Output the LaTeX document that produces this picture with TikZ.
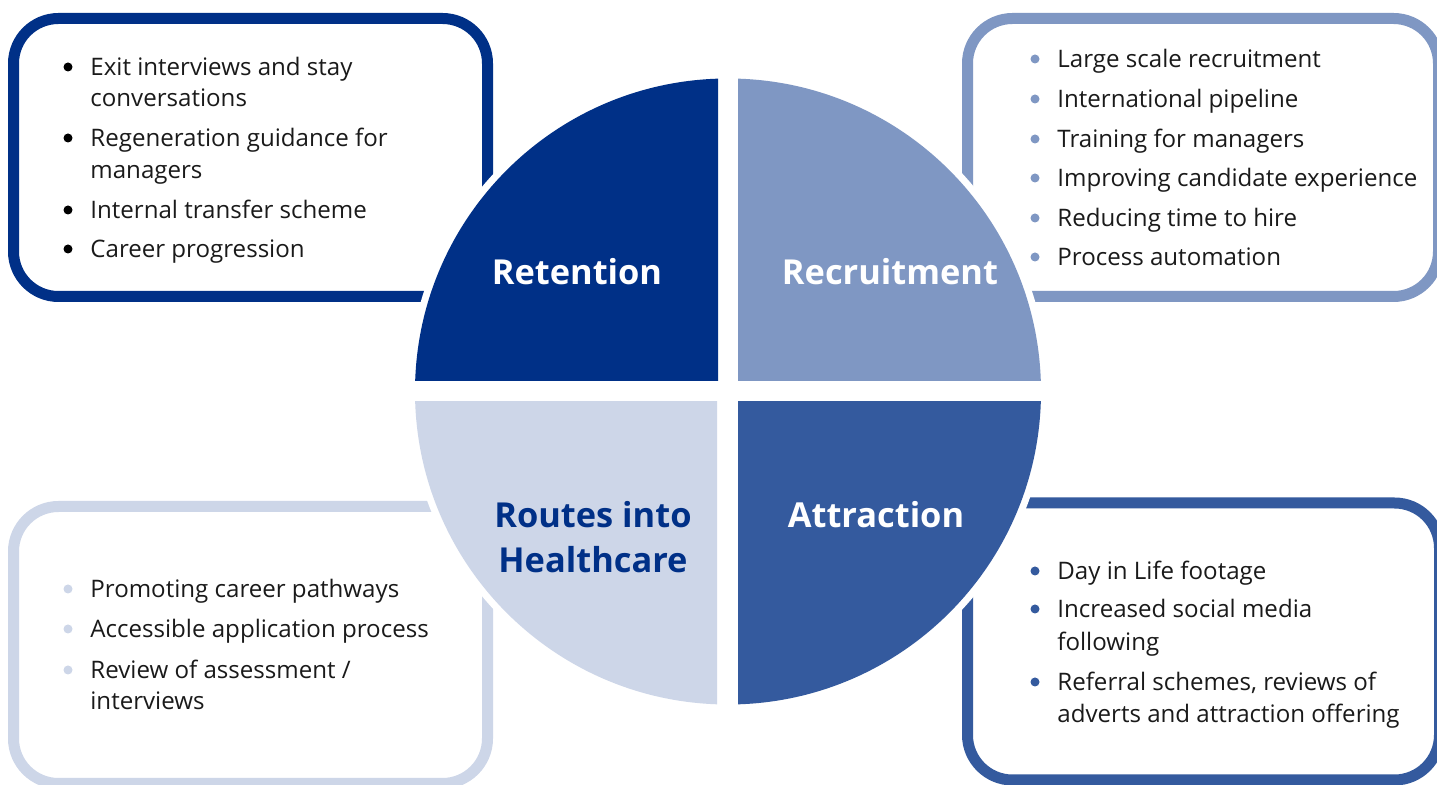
\documentclass[tikz,border=0pt]{standalone}
\usepackage{fontspec}
\setmainfont{Open Sans}
\definecolor{cRet}{HTML}{003087}
\definecolor{cRec}{HTML}{7F97C3}
\definecolor{cRou}{HTML}{CDD6E8}
\definecolor{cAtt}{HTML}{345A9E}
\definecolor{txt}{HTML}{1A1A1A}
\begin{document}
\begin{tikzpicture}[x=0.5pt,y=-0.5pt,
  item/.style={anchor=base west, inner sep=0pt, text=txt, font=\fontsize{12.05}{15}\selectfont},
  title/.style={anchor=base, inner sep=0pt, font=\fontsize{17.2}{21}\selectfont\bfseries},
  frame/.style={line width=5.5pt, rounded corners=22.5pt, fill=white},
  dot/.style={circle, inner sep=0pt, minimum size=4.5pt}]
\useasboundingbox (0,0) rectangle (1437,785);
\fill[white] (0,0) rectangle (1437,785);
% frames
\draw[frame, draw=cRet] (13.5,18.5) rectangle (487.5,296.5);
\draw[frame, draw=cRec] (967.5,18.5) rectangle (1438.5,296.5);
\draw[frame, draw=cRou] (13.5,506.5) rectangle (487.5,783.5);
\draw[frame, draw=cAtt] (967.5,503) rectangle (1439.5,780);
% white halo and quadrants
\fill[white] (728,391.5) circle [radius=320];
\begin{scope}\clip (0,0) rectangle (718,381);
  \fill[cRet] (728,391.5) circle [radius=313];\end{scope}
\begin{scope}\clip (738,0) rectangle (1437,381);
  \fill[cRec] (728,391.5) circle [radius=313];\end{scope}
\begin{scope}\clip (0,402) rectangle (717,785);
  \fill[cRou] (728,391.5) circle [radius=313];\end{scope}
\begin{scope}\clip (738,402) rectangle (1437,785);
  \fill[cAtt] (728,391.5) circle [radius=313];\end{scope}
% titles
\node[title, text=white] (tRet) at (577,285) {Retention};
\node[title, text=white] (tRec) at (890,285) {Recruitment};
\node[title, text=cRet] (tRou1) at (593,528) {Routes into};
\node[title, text=cRet] (tRou2) at (593,573) {Healthcare};
\node[title, text=white] (tAtt) at (876,528) {Attraction};
% Retention items
\node[dot, fill=black] (bRet1) at (68,67) {};
\node[item] (iRet1) at (90,76) {Exit interviews and stay};
\node[item] (iRet1b) at (90,107) {conversations};
\node[dot, fill=black] (bRet2) at (68,138) {};
\node[item] (iRet2) at (90,147) {Regeneration guidance for};
\node[item] (iRet2b) at (90,179) {managers};
\node[dot, fill=black] (bRet3) at (68,210) {};
\node[item] (iRet3) at (90,219) {Internal transfer scheme};
\node[dot, fill=black] (bRet4) at (68,249) {};
\node[item] (iRet4) at (90,258) {Career progression};
% Recruitment items
\node[dot, fill=cRec] (bRec1) at (1035,59) {};
\node[item] (iRec1) at (1057,68) {Large scale recruitment};
\node[dot, fill=cRec] (bRec2) at (1035,99) {};
\node[item] (iRec2) at (1057,108) {International pipeline};
\node[dot, fill=cRec] (bRec3) at (1035,139) {};
\node[item] (iRec3) at (1057,148) {Training for managers};
\node[dot, fill=cRec] (bRec4) at (1035,178) {};
\node[item] (iRec4) at (1057,187) {Improving candidate experience};
\node[dot, fill=cRec] (bRec5) at (1035,218) {};
\node[item] (iRec5) at (1057,227) {Reducing time to hire};
\node[dot, fill=cRec] (bRec6) at (1035,257) {};
\node[item] (iRec6) at (1057,266) {Process automation};
% Routes items
\node[dot, fill=cRou] (bRou1) at (68,589) {};
\node[item] (iRou1) at (90,598) {Promoting career pathways};
\node[dot, fill=cRou] (bRou2) at (68,629) {};
\node[item] (iRou2) at (90,638) {Accessible application process};
\node[dot, fill=cRou] (bRou3) at (68,670) {};
\node[item] (iRou3) at (90,679) {Review of assessment /};
\node[item] (iRou3b) at (90,710) {interviews};
% Attraction items
\node[dot, fill=cAtt] (bAtt1) at (1035,571) {};
\node[item] (iAtt1) at (1057,580) {Day in Life footage};
\node[dot, fill=cAtt] (bAtt2) at (1035,609) {};
\node[item] (iAtt2) at (1057,618) {Increased social media};
\node[item] (iAtt2b) at (1057,651) {following};
\node[dot, fill=cAtt] (bAtt3) at (1035,682) {};
\node[item] (iAtt3) at (1057,691) {Referral schemes, reviews of};
\node[item] (iAtt3b) at (1057,723) {adverts and attraction offering};
\end{tikzpicture}
\end{document}
